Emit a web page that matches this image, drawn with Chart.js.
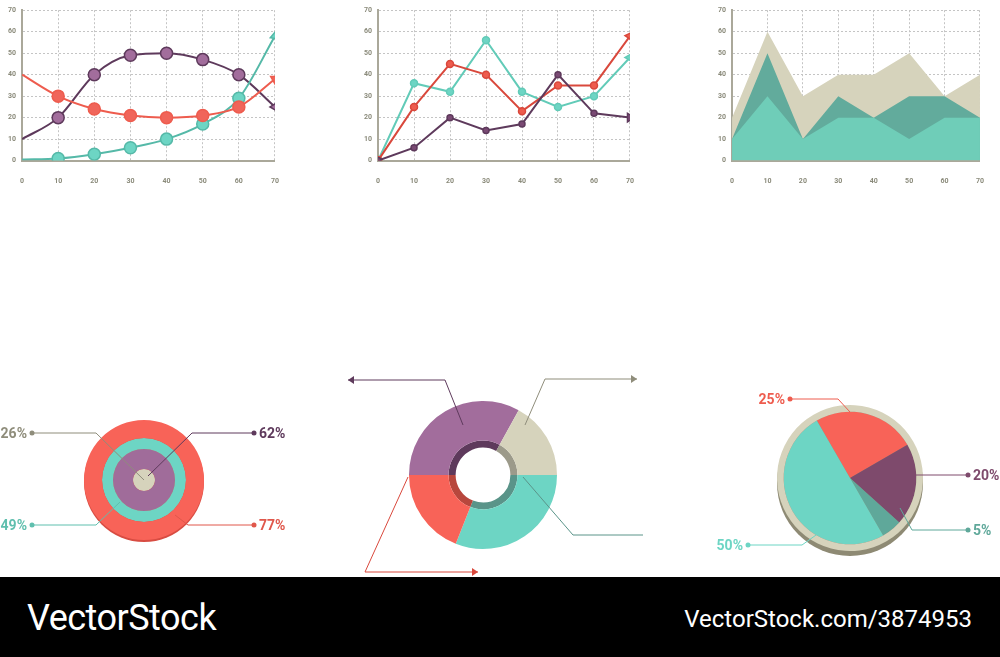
<!DOCTYPE html>
<html><head><meta charset="utf-8">
<script src="https://cdn.jsdelivr.net/npm/chart.js@4"></script>
<style>
body{margin:0;width:1000px;height:657px;background:#fff;position:relative;overflow:hidden;font-family:Roboto,sans-serif}
canvas{position:absolute}
#foot{position:absolute;left:0;top:577px;width:1000px;height:80px;background:#000;color:#fff}
#foot .a{position:absolute;left:27px;top:20px;font-size:36px;letter-spacing:-0.5px}
#foot .b{position:absolute;right:28px;top:28px;font-size:24px}
</style></head><body>
<div style="position:absolute;left:2px;top:0;width:293px;height:203px"><canvas id="c1"></canvas></div>
<div style="position:absolute;left:358px;top:0;width:292px;height:203px"><canvas id="c2"></canvas></div>
<div style="position:absolute;left:712px;top:0;width:288px;height:203px"><canvas id="c3"></canvas></div>
<div style="position:absolute;left:-6px;top:380px;width:300px;height:200px"><canvas id="c4"></canvas></div>
<div style="position:absolute;left:323px;top:365px;width:320px;height:220px"><canvas id="c5"></canvas></div>
<div style="position:absolute;left:700px;top:378px;width:300px;height:200px"><canvas id="c6"></canvas></div>
<div id="foot"><span class="a">VectorStock</span><span class="b">VectorStock.com/3874953</span></div>
<script>
const xs = [0,10,20,30,40,50,60,70];
const yTicks = [0,10,20,30,40,50,60,70];

const c1Purple = [10,20,40,49,50,47,40,25];
const c1Red    = [40,30,24,21,20,21,25,38];
const c1Teal   = [0.5,1,3,6,10,17,29,58];

const c2Purple = [0,6,20,14,17,40,22,20];
const c2Red    = [0,25,45,40,23,35,35,58];
const c2Teal   = [0,36,32,56,32,25,30,48];

const c3Beige    = [20,60,30,40,40,50,30,40];
const c3DarkTeal = [10,50,10,30,20,30,30,20];
const c3Teal     = [10,30,10,20,20,10,20,20];

const ringLabels = ['77%','49%','62%','26%'];
const ringWeights = [18,11,20,11];

const donutLabels = ['A','B','C','D'];
const donutValues = [33,17,31,19];

const pieLabels = ['25%','20%','5%','50%'];
const pieValues = [25,20,5,50];

const RED='#ee5c4e', TEAL='#6dd5c4', PURPLE='#5e3a5c', PMARK='#a26d9c', BEIGE='#d6d3bc', GREY='#8a8a7a';
const tickFont = {family:'Roboto', size:7, weight:'bold'};

function axes(){
  return {
    x:{type:'linear',min:0,max:70,afterBuildTicks:a=>{a.ticks=xs.map(v=>({value:v}))},
       grid:{color:'#c4c4c4',drawTicks:false},border:{color:'#aaa89a',width:2,dash:[2,2]},
       ticks:{color:GREY,font:tickFont,padding:16}},
    y:{min:0,max:70,afterBuildTicks:a=>{a.ticks=yTicks.map(v=>({value:v}))},
       grid:{color:'#c4c4c4',drawTicks:false},border:{color:'#aaa89a',width:2,dash:[2,2]},
       ticks:{color:GREY,font:tickFont,padding:6}}
  };
}
const pts = d => xs.map((x,i)=>({x, y:d[i]}));
Chart.defaults.animation=false;
Chart.defaults.plugins.legend.display=false;
Chart.defaults.plugins.tooltip.enabled=false;
const pad = {top:5,right:10,bottom:2};

function lineSet(d,color,fill,r,arrowRot,bw){
  return {data:pts(d),borderColor:color,borderWidth:bw||2,
    pointRadius:xs.map((x,i)=>i===7?5:r(i)),
    pointStyle:xs.map((x,i)=>i===7?'triangle':'circle'),
    rotation:xs.map((x,i)=>i===7?arrowRot:0),
    pointBackgroundColor:fill,pointBorderColor:color,pointBorderWidth:1.5};
}

new Chart(document.getElementById('c1'),{type:'line',
  data:{datasets:[
    Object.assign(lineSet(c1Red,RED,'#f0655a',i=>i===0?0:6,60),{cubicInterpolationMode:'monotone'}),
    Object.assign(lineSet(c1Teal,'#55b9a8',TEAL,i=>i===0?0:6,10),{cubicInterpolationMode:'monotone'}),
    Object.assign(lineSet(c1Purple,PURPLE,PMARK,i=>i===0?0:6,150),{cubicInterpolationMode:'monotone'})
  ]},
  options:{responsive:true,maintainAspectRatio:false,layout:{padding:pad},scales:axes()}});

new Chart(document.getElementById('c2'),{type:'line',
  data:{datasets:[
    lineSet(c2Purple,PURPLE,'#7a4a74',i=>3,90),
    lineSet(c2Red,'#d9483c',RED,i=>i===0?4:3.5,35),
    lineSet(c2Teal,'#62cbb8',TEAL,i=>i===0?4:3.5,30)
  ]},
  options:{responsive:true,maintainAspectRatio:false,layout:{padding:pad},elements:{line:{tension:0}},scales:axes()}});

new Chart(document.getElementById('c3'),{type:'line',
  data:{datasets:[
    {data:pts(c3Teal),fill:'origin',backgroundColor:'#6fcdb8',borderWidth:0,pointRadius:0,order:1},
    {data:pts(c3DarkTeal),fill:'origin',backgroundColor:'#62ab9c',borderWidth:0,pointRadius:0,order:2},
    {data:pts(c3Beige),fill:'origin',backgroundColor:BEIGE,borderWidth:0,pointRadius:0,order:3}
  ]},
  options:{responsive:true,maintainAspectRatio:false,layout:{padding:{top:5,right:8,bottom:2}},elements:{line:{tension:0}},scales:axes()}});

function leaders(list){
  return {id:'leaders',afterDraw(ch){
    const ctx=ch.ctx, m=ch.getDatasetMeta(0).data[0]; const cx=m.x, cy=m.y;
    ctx.save();
    list.forEach(L=>{
      ctx.strokeStyle=L.color;ctx.fillStyle=L.color;ctx.lineWidth=1;
      ctx.beginPath();ctx.moveTo(cx+L.fx,cy+L.fy);ctx.lineTo(cx+L.ex,cy+L.ey);ctx.lineTo(cx+L.tx,cy+L.ey);ctx.stroke();
      if(L.dot){ctx.beginPath();ctx.arc(cx+L.tx,cy+L.ey,2.5,0,7);ctx.fill();}
      if(L.arrow){ctx.beginPath();const x=cx+L.tx,y=cy+L.ey,s=L.arrow;ctx.moveTo(x,y);ctx.lineTo(x-6*s,y-4);ctx.lineTo(x-6*s,y+4);ctx.closePath();ctx.fill();}
      if(L.text){ctx.font='bold 14px Roboto';ctx.textBaseline='middle';
        ctx.textAlign=L.tx<0?'right':'left';ctx.fillText(L.text,cx+L.tx+(L.tx<0?-5:5),cy+L.ey+1);}
    });
    ctx.restore();}};
}

new Chart(document.getElementById('c4'),{type:'doughnut',
  data:{labels:['v'],datasets:[
    {data:[1],backgroundColor:'#f86358',borderWidth:0,weight:ringWeights[0]},
    {data:[1],backgroundColor:TEAL,borderWidth:0,weight:ringWeights[1]},
    {data:[1],backgroundColor:'#a06c9a',borderWidth:0,weight:ringWeights[2]},
    {data:[1],backgroundColor:BEIGE,borderWidth:0,weight:ringWeights[3]}]},
  options:{responsive:true,maintainAspectRatio:false,cutout:0,radius:60,layout:{padding:0}},
  plugins:[{id:'shadow',beforeDatasetsDraw(ch){const m=ch.getDatasetMeta(0).data[0],c=ch.ctx;c.save();
      c.fillStyle='#d84c42';c.beginPath();c.arc(m.x,m.y+2,60,0,7);c.fill();c.restore();}},
    leaders([
    {fx:0,fy:0,ex:-48,ey:-47,tx:-112,text:ringLabels[3],color:'#8f8d7b',dot:1},
    {fx:4,fy:-4,ex:48,ey:-47,tx:110,text:ringLabels[2],color:PURPLE,dot:1},
    {fx:-24,fy:22,ex:-48,ey:45,tx:-112,text:ringLabels[1],color:'#5fbfae',dot:1},
    {fx:31,fy:35,ex:44,ey:45,tx:110,text:ringLabels[0],color:'#e0574b',dot:1}])]});

new Chart(document.getElementById('c5'),{type:'doughnut',
  data:{labels:donutLabels,datasets:[
    {data:donutValues,backgroundColor:['#a26d9c','#d6d3bc',TEAL,'#f86358'],borderWidth:0,weight:39},
    {data:donutValues,backgroundColor:['#5e3a5c','#9c9a8a','#5a9489','#b8473d'],borderWidth:0,weight:7}]},
  options:{responsive:true,maintainAspectRatio:false,cutout:'37%',radius:74,rotation:-90,layout:{padding:0}},
  plugins:[leaders([
    {fx:-20,fy:-50,ex:-38,ey:-95,tx:-135,color:'#5e3a5c',arrow:-1},
    {fx:42,fy:-50,ex:62,ey:-96,tx:154,color:'#8f8d7b',arrow:1},
    {fx:40,fy:2,ex:90,ey:60,tx:168,color:'#5a9489',arrow:1},
    {fx:-75,fy:2,ex:-118,ey:97,tx:-5,color:'#d9483c',arrow:1}])]});

new Chart(document.getElementById('c6'),{type:'pie',
  data:{labels:pieLabels,datasets:[
    {data:[1],backgroundColor:BEIGE,borderWidth:0,weight:1},
    {data:pieValues,backgroundColor:['#f86358','#7e4a6c','#5fa89a',TEAL],borderWidth:0,weight:10}]},
  options:{responsive:true,maintainAspectRatio:false,radius:73,rotation:-30,layout:{padding:0}},
  plugins:[{id:'shadow',beforeDatasetsDraw(ch){const m=ch.getDatasetMeta(0).data[0],c=ch.ctx;c.save();
      c.fillStyle='#8e8a74';c.beginPath();c.arc(m.x,m.y+5,73,0,7);c.fill();c.restore();}},
    leaders([
    {fx:0,fy:-66,ex:-12,ey:-79,tx:-60,text:pieLabels[0],color:'#ee5c4e',dot:1},
    {fx:40,fy:-5,ex:40,ey:-3,tx:118,text:pieLabels[1],color:'#7e4a6c',dot:1},
    {fx:50,fy:30,ex:62,ey:52,tx:118,text:pieLabels[2],color:'#5fa89a',dot:1},
    {fx:-10,fy:40,ex:-48,ey:67,tx:-102,text:pieLabels[3],color:'#6dd5c4',dot:1}])]});
</script></body></html>
